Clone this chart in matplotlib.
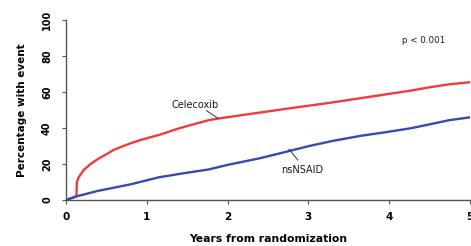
import matplotlib.pyplot as plt

# Kaplan-Meier style cumulative event curves
cel_years = [0, 0.05, 0.10, 0.13, 0.135, 0.16, 0.22, 0.30, 0.39, 0.50, 0.59, 0.70, 0.80, 0.90,
             1.00, 1.15, 1.40, 1.77, 2.00, 2.39, 2.70, 3.01, 3.30, 3.64, 3.95, 4.26, 4.50, 4.75, 5.00]
cel_pct = [0, 0.8, 1.5, 2.2, 10.0, 12.8, 16.7, 19.8, 22.6, 25.4, 27.8, 29.8, 31.5, 33.0,
           34.3, 36.1, 39.8, 44.4, 46.0, 48.5, 50.5, 52.4, 54.2, 56.5, 58.6, 60.7, 62.6, 64.3, 65.4]

ns_years = [0, 0.13, 0.39, 0.80, 1.15, 1.45, 1.77, 2.00, 2.39, 2.70, 3.01, 3.30, 3.64, 3.95,
            4.26, 4.50, 4.75, 5.00]
ns_pct = [0, 2.0, 5.0, 8.7, 12.6, 14.8, 17.0, 19.5, 23.1, 26.5, 30.0, 32.8, 35.6, 37.6,
          39.8, 42.0, 44.4, 45.9]

x_ticks = [0, 1, 2, 3, 4, 5]
y_ticks = [0, 20, 40, 60, 80, 100]

plt.rcParams['font.family'] = ['DejaVu Sans']

fig = plt.figure(figsize=(4.71, 2.46), dpi=100)
ax = fig.add_axes([0.140, 0.187, 0.858, 0.732])

ax.plot(cel_years, cel_pct, color='#f23a3a', lw=1.7)
ax.plot(ns_years, ns_pct, color='#3a48b0', lw=1.7)

ax.set_xlim(0, 5)
ax.set_ylim(0, 100)
ax.set_xticks(x_ticks)
ax.set_yticks(y_ticks)
ax.set_xticklabels([str(v) for v in x_ticks], fontsize=7.5, fontweight='bold')
ax.set_yticklabels([str(v) for v in y_ticks], fontsize=7, fontweight='bold',
                   rotation=90, va='center')
ax.tick_params(direction='out', length=3, width=0.8, color='#555555')
ax.tick_params(axis='x', pad=6)
ax.tick_params(axis='y', pad=7)

for side in ['top', 'right']:
    ax.spines[side].set_visible(False)
for side in ['left', 'bottom']:
    ax.spines[side].set_color('#555555')
    ax.spines[side].set_linewidth(1.0)

ax.set_xlabel('Years from randomization', fontsize=7.8, fontweight='bold', labelpad=8.5)
ax.set_ylabel('Percentage with event', fontsize=7.5, fontweight='bold', labelpad=11)

ax.text(1.6, 53, 'Celecoxib', fontsize=7, ha='center', va='center', color='#1a1a1a')
ax.plot([1.74, 1.88], [49.6, 45.4], color='#333333', lw=0.7)
ax.text(2.92, 16.7, 'nsNSAID', fontsize=7, ha='center', va='center', color='#1a1a1a')
ax.plot([2.76, 2.87], [28.2, 22.2], color='#333333', lw=0.7)
ax.text(4.42, 88.5, 'p < 0.001', fontsize=6.3, ha='center', va='center', color='#1a1a1a')

fig.savefig('out.png', dpi=100)
